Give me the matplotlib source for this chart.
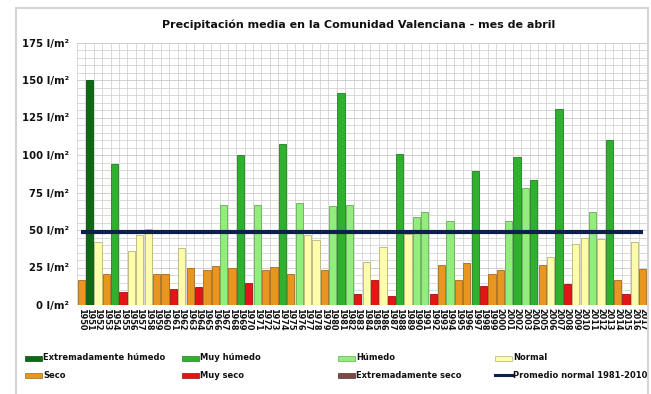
import matplotlib
matplotlib.use("Agg")
import matplotlib.pyplot as plt
from matplotlib.patches import Rectangle
from matplotlib.lines import Line2D
import matplotlib.colors as mcolors
import numpy as np

# ---------------- data ----------------
years = list(range(1950, 2018))
precip = [17, 150, 42, 20.5, 94, 9, 36, 46.5, 51, 20.5,
          20.5, 10.5, 38, 24.5, 12, 23.5, 26, 67, 24.5, 100,
          15, 66.5, 23.5, 25.5, 107.5, 20.5, 68, 47, 43.5, 23.5,
          66, 141.5, 66.5, 7.5, 28.5, 16.5, 38.5, 6, 101, 47.5,
          58.5, 62, 7.5, 26.5, 56, 16.5, 28, 89.5, 13, 20.5,
          23.5, 56, 99, 78, 83.5, 26.5, 32, 130.5, 14, 41,
          45, 62, 44, 110, 17, 7.5, 42, 24]
category = ["S", "EH", "N", "S", "MH", "MS", "N", "N", "N", "S",
            "S", "MS", "N", "S", "MS", "S", "S", "H", "S", "MH",
            "MS", "H", "S", "S", "MH", "S", "H", "N", "N", "S",
            "H", "MH", "H", "MS", "N", "MS", "N", "MS", "MH", "N",
            "H", "H", "MS", "S", "H", "S", "S", "MH", "MS", "S",
            "S", "H", "MH", "H", "MH", "S", "N", "MH", "MS", "N",
            "N", "H", "N", "MH", "S", "MS", "N", "S"]
normal_mean = 48.9
normal_label = "Promedio normal 1981-2010"

cat_codes = ["EH", "MH", "H", "N", "S", "MS", "ES"]
cat_labels = ["Extremadamente húmedo", "Muy húmedo", "Húmedo", "Normal",
              "Seco", "Muy seco", "Extremadamente seco"]
y_ticks = [0, 25, 50, 75, 100, 125, 150, 175]
title = "Precipitación media en la Comunidad Valenciana - mes de abril"

# ---------------- styles ----------------
cat_colors = {"EH": "#0d6a12", "MH": "#2fb12f", "H": "#92ee7c", "N": "#fdfcab",
              "S": "#e8961f", "MS": "#e31515", "ES": "#7b4846"}
line_color = "#0c1f4e"


def darker(c, f=0.7):
    r, g, b = mcolors.to_rgb(c)
    return (r * f, g * f, b * f)


W, H = 651, 394
fig = plt.figure(figsize=(W / 100, H / 100), dpi=100)
fig.patch.set_facecolor("white")


def fx(x):
    return x / W


def fy(y):
    return 1 - y / H


# outer frame
fig.patches.append(Rectangle((fx(16), fy(400)), fx(648) - fx(16), fy(8) - fy(400),
                             transform=fig.transFigure, fill=False,
                             edgecolor="#d4d4d4", linewidth=1.5, zorder=0))

ax = fig.add_axes([fx(77), fy(305), fx(647) - fx(77), fy(42.5) - fy(305)])
ax.set_facecolor("none")

x = np.arange(len(years))
fc = [cat_colors[c] for c in category]
ec = [darker(cat_colors[c], 0.72) for c in category]
ax.bar(x, precip, width=0.86, color=fc, edgecolor=ec, linewidth=0.6, zorder=3)

ax.plot([x[0], x[-1]], [normal_mean, normal_mean], color=line_color,
        linewidth=3.0, solid_capstyle="butt", zorder=4)

ax.set_xlim(-0.5, len(years) - 0.5)
ax.set_ylim(0, 175)

# grid
ax.set_yticks(y_ticks)
ax.set_yticklabels([f"{v} l/m²" for v in y_ticks], fontsize=7.3,
                   fontweight="bold", color="#111111")
ax.set_yticks(np.arange(0, 176, 5), minor=True)
ax.set_xticks(x)
ax.set_xticklabels([str(y) for y in years], rotation=-90, fontsize=5.9,
                   fontweight="bold", color="#111111")
ax.set_xticks(np.arange(-0.5, len(years), 1), minor=True)
ax.tick_params(axis="both", which="both", length=0)
ax.tick_params(axis="y", pad=6)
ax.tick_params(axis="x", pad=2.5)
ax.grid(True, which="minor", color="#d3d3d3", linewidth=0.6, zorder=0)
ax.grid(True, which="major", axis="y", color="#c8c8c8", linewidth=0.6, zorder=0)
ax.set_axisbelow(True)
for s in ax.spines.values():
    s.set_visible(False)

fig.text(fx(359), fy(25), title, ha="center", va="center", fontsize=8,
         fontweight="bold", color="#111111")

# legend (manual, 4 columns x 2 rows)
col_x = [25, 182, 338, 495]
row_y = [358, 375]
entries = [(cat_labels[i], cat_colors[c], "patch") for i, c in enumerate(cat_codes)]
entries.append((normal_label, line_color, "line"))
for k, (lab, col, kind) in enumerate(entries):
    cx = col_x[k % 4]
    cy = row_y[k // 4]
    if kind == "patch":
        fig.patches.append(Rectangle((fx(cx), fy(cy + 2.5)), fx(17), 5 / H,
                                     transform=fig.transFigure, facecolor=col,
                                     edgecolor=darker(col, 0.7), linewidth=0.5))
    else:
        fig.lines.append(Line2D([fx(cx), fx(cx + 17)], [fy(cy), fy(cy)],
                                transform=fig.transFigure, color=col, linewidth=2.2))
    fig.text(fx(cx + 18), fy(cy), lab, ha="left", va="center", fontsize=6,
             fontweight="bold", color="#111111")

fig.savefig("out.png", dpi=100)
